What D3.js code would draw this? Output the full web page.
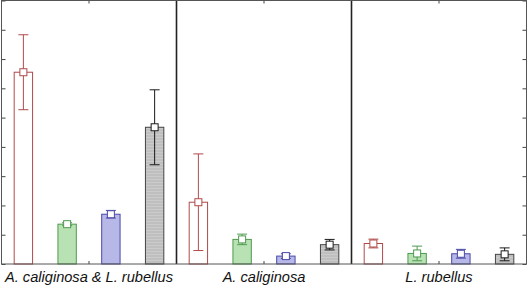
<!DOCTYPE html>
<html>
<head>
<meta charset="utf-8">
<script src="https://cdn.jsdelivr.net/npm/d3@7"></script>
<style>
  body { margin: 0; background: #fff; }
  svg { display: block; }
</style>
</head>
<body>
<svg id="drawing_region"></svg>
<script>
// groups along the x axis
const groups = ["A. caliginosa & L. rubellus", "A. caliginosa", "L. rubellus"];
// four treatments per group
const series = ["s1", "s2", "s3", "s4"];
// means (units of the y ticks)
const means = [
    [6.55, 1.36, 1.70, 4.67],
    [2.11, 0.84, 0.27, 0.66],
    [0.70, 0.36, 0.35, 0.33]
];
// error half-widths
const errors = [
    [1.28, 0.05, 0.13, 1.28],
    [1.65, 0.18, 0.08, 0.18],
    [0.15, 0.25, 0.15, 0.22]
];
const yTicks = [0, 1, 2, 3, 4, 5, 6, 7, 8, 9];

const strokes = ["#b04a4a", "#4f9a4f", "#4a4aa8", "#1a1a1a"];
const fills = ["#ffffff", "#b9e2b4", "#b8b8e8", "url(#hatch)"];

const width = 528, height = 287;
const margin = {top: 0.5, right: 1.5, bottom: 23, left: 1.5};
const inner_width = width - margin.left - margin.right;
const inner_height = height - margin.top - margin.bottom;

const svg = d3.select('#drawing_region')
    .attr('width', width)
    .attr('height', height);

// horizontal stripes for the gray bars
const pat = svg.append('defs').append('pattern')
    .attr('id', 'hatch')
    .attr('patternUnits', 'userSpaceOnUse')
    .attr('width', 4).attr('height', 3);
pat.append('rect').attr('width', 4).attr('height', 3).attr('fill', '#cbcbcb');
pat.append('rect').attr('width', 4).attr('height', 1).attr('fill', '#b2b2b2');

const chart = svg.append('g')
    .attr('transform', `translate(${margin.left}, ${margin.top})`);

const xscale = d3.scaleBand()
    .domain(groups)
    .range([0, inner_width])
    .padding(0);

const xinner = d3.scaleBand()
    .domain(series)
    .range([0, xscale.bandwidth()])
    .paddingInner(0.58)
    .paddingOuter(0.29);

const yscale = d3.scaleLinear()
    .domain([0, 9])
    .range([inner_height, 0]);

// bars
const rows = [];
groups.forEach((g, i) => {
    series.forEach((s, j) => {
        rows.push({g: g, s: s, j: j, m: means[i][j], e: errors[i][j]});
    });
});

const barX = d => xscale(d.g) + xinner(d.s);
const barC = d => barX(d) + xinner.bandwidth() / 2;

chart.selectAll('rect.bar')
    .data(rows)
    .enter()
    .append('rect')
    .attr('class', 'bar')
    .attr('x', d => barX(d))
    .attr('y', d => yscale(d.m))
    .attr('width', xinner.bandwidth())
    .attr('height', d => yscale(0) - yscale(d.m))
    .attr('fill', d => fills[d.j])
    .attr('stroke', d => d.j === 3 ? '#444' : strokes[d.j])
    .attr('stroke-width', 1);

// error bars
const eb = chart.selectAll('g.err')
    .data(rows)
    .enter()
    .append('g')
    .attr('class', 'err')
    .attr('stroke', d => strokes[d.j])
    .attr('stroke-width', 1);

eb.append('line')
    .attr('x1', d => barC(d)).attr('x2', d => barC(d))
    .attr('y1', d => yscale(d.m - d.e)).attr('y2', d => yscale(d.m + d.e));
eb.append('line')
    .attr('x1', d => barC(d) - 5).attr('x2', d => barC(d) + 5)
    .attr('y1', d => yscale(d.m + d.e)).attr('y2', d => yscale(d.m + d.e));
eb.append('line')
    .attr('x1', d => barC(d) - 5).attr('x2', d => barC(d) + 5)
    .attr('y1', d => yscale(d.m - d.e)).attr('y2', d => yscale(d.m - d.e));
eb.append('rect')
    .attr('x', d => barC(d) - 3.5)
    .attr('y', d => yscale(d.m) - 3.5)
    .attr('width', 7).attr('height', 7)
    .attr('fill', '#fff');

// axes: ticks pointing inwards on all sides
const yleft = d3.axisRight(yscale).tickValues(yTicks).tickSize(4).tickFormat('');
const yright = d3.axisLeft(yscale).tickValues(yTicks).tickSize(4).tickFormat('');
const xtop = d3.axisBottom(xscale).tickSize(3).tickFormat('');
const xbottom = d3.axisTop(xscale).tickSize(3).tickFormat('');

[chart.append('g').call(yleft),
 chart.append('g').attr('transform', `translate(${inner_width}, 0)`).call(yright),
 chart.append('g').call(xtop),
 chart.append('g').attr('transform', `translate(0, ${inner_height})`).call(xbottom)
].forEach(a => {
    a.select('.domain').remove();
    a.selectAll('line').attr('stroke', '#444');
});

// group separators
chart.selectAll('line.sep')
    .data(groups.slice(1))
    .enter()
    .append('line')
    .attr('class', 'sep')
    .attr('x1', d => xscale(d)).attr('x2', d => xscale(d))
    .attr('y1', 0).attr('y2', inner_height)
    .attr('stroke', '#222')
    .attr('stroke-width', 1.6);

// frame
chart.append('rect')
    .attr('x', 0).attr('y', 0)
    .attr('width', inner_width).attr('height', inner_height)
    .attr('fill', 'none')
    .attr('stroke', '#555')
    .attr('stroke-width', 1);

// group labels
chart.selectAll('text.lab')
    .data(groups)
    .enter()
    .append('text')
    .attr('class', 'lab')
    .attr('x', d => xscale(d) + xscale.bandwidth() / 2)
    .attr('y', inner_height + 18)
    .attr('text-anchor', 'middle')
    .attr('font-family', 'Liberation Sans, Arial, sans-serif')
    .attr('font-style', 'italic')
    .attr('font-size', '14.6px')
    .attr('fill', '#111')
    .text(d => d);
</script>
</body>
</html>
